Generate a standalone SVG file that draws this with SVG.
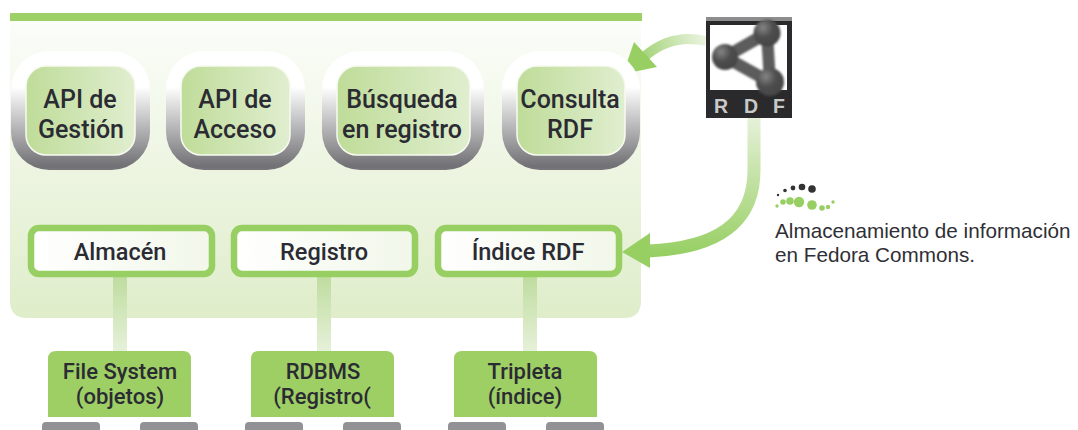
<svg xmlns="http://www.w3.org/2000/svg" width="1078" height="430" viewBox="0 0 1078 430">
<defs>
<linearGradient id="panel" x1="0" y1="0" x2="0" y2="1"><stop offset="0" stop-color="#fbfdf9"/><stop offset="1" stop-color="#dfedca"/></linearGradient>
<linearGradient id="ring" x1="0" y1="0" x2="0" y2="1"><stop offset="0" stop-color="#fff"/><stop offset="0.3" stop-color="#fff"/><stop offset="0.97" stop-color="#717175"/><stop offset="1" stop-color="#77777b"/></linearGradient>
<linearGradient id="inner" x1="0" y1="0" x2="1" y2="0"><stop offset="0" stop-color="#bfdc99"/><stop offset="1" stop-color="#e0eecf"/></linearGradient>
<linearGradient id="box" x1="0" y1="0" x2="1" y2="0"><stop offset="0" stop-color="#fff"/><stop offset="1" stop-color="#f1f7e9"/></linearGradient>
<linearGradient id="stem" x1="0" y1="0" x2="0" y2="1"><stop offset="0" stop-color="#bfdc9f"/><stop offset="1" stop-color="#e6f1d9"/></linearGradient>
<linearGradient id="arrowV" gradientUnits="userSpaceOnUse" x1="0" y1="118" x2="0" y2="255"><stop offset="0" stop-color="#e6f1d9"/><stop offset="1" stop-color="#97cf63"/></linearGradient>
<linearGradient id="arrowT" gradientUnits="userSpaceOnUse" x1="705" y1="40" x2="645" y2="60"><stop offset="0" stop-color="#eaf3df"/><stop offset="1" stop-color="#a5d47a"/></linearGradient>
<radialGradient id="ball" cx="0.35" cy="0.3" r="0.8"><stop offset="0" stop-color="#858585"/><stop offset="0.45" stop-color="#4f4f4f"/><stop offset="1" stop-color="#414141"/></radialGradient>
<filter id="soft" x="-5%" y="-5%" width="110%" height="110%"><feGaussianBlur stdDeviation="0.8"/></filter>
</defs>
<style>
text{font-family:"Roboto","Liberation Sans",sans-serif;text-anchor:middle;fill:#2b2b33;font-weight:500}
.t{font-size:25px}
.b{font-size:23.5px}
.c{font-size:22px}
.ring{fill:url(#ring)}
.inner{fill:url(#inner);stroke:#f7faf1;stroke-width:1.5}
.box{fill:url(#box);stroke:#97cf63;stroke-width:6.5}
.store{fill:#9ecf65}
.disk{fill:#929296}
.stem{fill:url(#stem)}
.cap{font-family:"Liberation Sans",Arial,sans-serif;font-size:20.7px;font-weight:400;text-anchor:start;fill:#2f2f35}
.rdf{font-family:"Liberation Sans",sans-serif;font-size:19.5px;font-weight:700;fill:#c9c9c9}
</style>
<rect x="10" y="13" width="632" height="8" fill="#9ed068"/>
<path d="M10 21H641V301Q641 318 624 318H27Q10 318 10 301Z" fill="url(#panel)"/>
<g id="connectors">
<rect class="stem" x="113" y="277" width="14" height="74"/>
<rect class="stem" x="317" y="277" width="14" height="74"/>
<rect class="stem" x="523" y="277" width="14" height="74"/>
<path d="M706 41Q672 33 645 56" fill="none" stroke="url(#arrowT)" stroke-width="10"/>
<path d="M623 74L634 42L657 67Z" fill="#97cf63"/>
<path d="M754 118V170C754 225 715 248 648 251" fill="none" stroke="url(#arrowV)" stroke-width="13"/>
<path d="M622 252L650 233V268Z" fill="#97cf63"/>
</g>
<g id="api-gestion"><rect class="ring" x="11" y="51" width="139" height="119" rx="38"/><rect class="inner" x="26" y="66" width="109" height="89" rx="20"/><text class="t" x="80" y="108">API de</text><text class="t" x="81" y="138">Gestión</text></g>
<g id="api-acceso"><rect class="ring" x="166" y="51" width="139" height="119" rx="38"/><rect class="inner" x="181" y="66" width="109" height="89" rx="20"/><text class="t" x="235" y="108">API de</text><text class="t" x="235" y="138">Acceso</text></g>
<g id="busqueda"><rect class="ring" x="322" y="51" width="162" height="119" rx="38"/><rect class="inner" x="337" y="66" width="133" height="89" rx="20"/><text class="t" x="402" y="108">Búsqueda</text><text class="t" x="402" y="138">en registro</text></g>
<g id="consulta"><rect class="ring" x="502" y="51" width="138" height="119" rx="38"/><rect class="inner" x="517" y="66" width="108" height="89" rx="20"/><text class="t" x="570" y="108">Consulta</text><text class="t" x="570" y="138">RDF</text></g>
<g id="almacen"><rect class="box" x="31" y="228" width="181" height="46" rx="8"/><text class="b" x="120" y="260">Almacén</text></g>
<g id="registro"><rect class="box" x="234" y="228" width="181" height="46" rx="8"/><text class="b" x="324" y="260">Registro</text></g>
<g id="indice"><rect class="box" x="438" y="228" width="181" height="46" rx="8"/><text class="b" x="528" y="260">Índice RDF</text></g>
<g id="filesystem"><path class="store" d="M48 417V359Q48 351 56 351H183Q191 351 191 359V417Z"/><text class="c" x="120" y="379">File System</text><text class="c" x="120" y="404">(objetos)</text><rect class="disk" x="42" y="422" width="58" height="12" rx="4"/><rect class="disk" x="140" y="422" width="58" height="12" rx="4"/></g>
<g id="rdbms"><path class="store" d="M251 417V359Q251 351 259 351H386Q394 351 394 359V417Z"/><text class="c" x="323" y="379">RDBMS</text><text class="c" x="322" y="404">(Registro(</text><rect class="disk" x="245" y="422" width="58" height="12" rx="4"/><rect class="disk" x="343" y="422" width="58" height="12" rx="4"/></g>
<g id="tripleta"><path class="store" d="M454 417V359Q454 351 462 351H589Q597 351 597 359V417Z"/><text class="c" x="525" y="379">Tripleta</text><text class="c" x="525" y="404">(índice)</text><rect class="disk" x="448" y="422" width="58" height="12" rx="4"/><rect class="disk" x="546" y="422" width="58" height="12" rx="4"/></g>
<g id="rdf-icon">
<rect x="706" y="17" width="86" height="101" fill="#2a2a2c"/>
<rect x="706" y="17" width="86" height="4" fill="#8d8d8d"/>
<rect x="710" y="25" width="77" height="65" fill="#fff"/>
<g filter="url(#soft)">
<path d="M725 57L767 33L770 82Z" fill="none" stroke="#5c5c5c" stroke-width="12" stroke-linejoin="round"/>
<circle cx="725" cy="57" r="13" fill="url(#ball)"/><circle cx="767" cy="33" r="13.500" fill="url(#ball)"/><circle cx="770" cy="82" r="14" fill="url(#ball)"/>
</g>
<text class="rdf" x="721" y="113">R</text>
<text class="rdf" x="751" y="113">D</text>
<text class="rdf" x="779" y="113">F</text>
</g>
<g id="fedora-caption">
<g fill="#333"><circle cx="778" cy="195" r="1.200"/><circle cx="785" cy="190.500" r="1.800"/><circle cx="793" cy="188" r="2.400"/><circle cx="802" cy="187" r="3.300"/><circle cx="812" cy="189" r="3.800"/></g>
<g fill="#97cf63"><circle cx="777" cy="206" r="1.700"/><circle cx="783" cy="202" r="2.800"/><circle cx="790" cy="201" r="3.800"/><circle cx="799" cy="202" r="5.200"/><circle cx="812" cy="205" r="4.800"/><circle cx="822" cy="208" r="2.800"/><circle cx="828" cy="207" r="2.200"/><circle cx="833" cy="202" r="1.700"/></g>
<text class="cap" x="775" y="238">Almacenamiento de información</text>
<text class="cap" x="775" y="262">en Fedora Commons.</text>
</g>
</svg>
